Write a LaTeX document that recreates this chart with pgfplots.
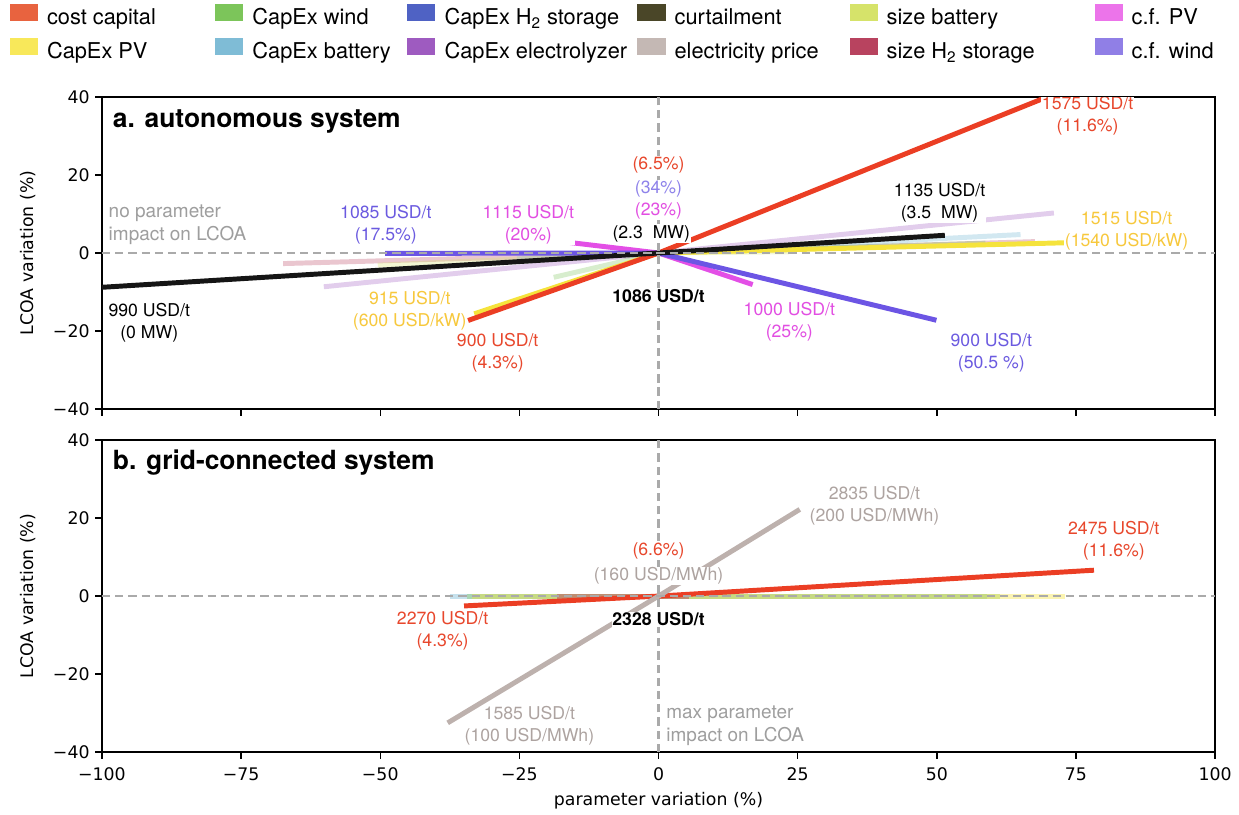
\documentclass[border=0pt]{standalone}
\usepackage{pgfplots}
\pgfplotsset{compat=1.18}
\usepackage{fontspec}
\setmainfont{TeX Gyre Heros}
\newfontfamily\dejavu{DejaVu Sans}

\definecolor{ccapL}{HTML}{EB3E24}
\definecolor{ccapS}{HTML}{E8633F}
\definecolor{pvL}{HTML}{F5E33C}
\definecolor{pvS}{HTML}{F8E85A}
\definecolor{windS}{HTML}{7CC55A}
\definecolor{battS}{HTML}{7FBCD6}
\definecolor{h2sS}{HTML}{4F62C4}
\definecolor{elecS}{HTML}{9E5BC0}
\definecolor{curtS}{HTML}{4A4628}
\definecolor{curtL}{HTML}{151515}
\definecolor{priceS}{HTML}{C4B8B4}
\definecolor{priceL}{HTML}{BDB1AD}
\definecolor{sbattS}{HTML}{D6E36A}
\definecolor{sh2S}{HTML}{B8435F}
\definecolor{cfpvS}{HTML}{EC74EA}
\definecolor{cfpvL}{HTML}{E34FE6}
\definecolor{cfwS}{HTML}{907FE6}
\definecolor{cfwL}{HTML}{6C55E4}
\definecolor{labred}{HTML}{E8472C}
\definecolor{labyel}{HTML}{F7C83C}
\definecolor{labviol}{HTML}{6B5AE0}
\definecolor{lablav}{HTML}{8E82EA}
\definecolor{labmag}{HTML}{E24EE2}
\definecolor{labgray}{HTML}{9E9E9E}
\definecolor{labprice}{HTML}{ADA3A0}
\definecolor{refgray}{HTML}{AAAAAA}

\tikzset{
  ref/.style={refgray, line width=1.5pt, dash pattern=on 5pt off 3pt, line cap=butt},
  lab/.style={align=center, fill=white, inner sep=0.5pt, font=\fontsize{10.7}{13.3}\selectfont},
  faint/.style={opacity=0.3},
}
\pgfplotsset{
  panel/.style={
    scale only axis, width=674.5pt, height=189pt,
    xmin=-100, xmax=100, ymin=-40, ymax=40,
    xtick={-100,-75,-50,-25,0,25,50,75,100},
    ytick={-40,-20,0,20,40},
    yticklabels={−40,−20,0,20,40},
    tick pos=left, tick align=outside, major tick length=4pt,
    axis line style={line width=0.9pt},
    every tick/.style={line width=0.9pt, black},
    ticklabel style={font=\dejavu\fontsize{10.5}{12}\selectfont},
    xlabel style={font=\dejavu\fontsize{10.5}{12}\selectfont},
    ylabel={LCOA variation (\%)},
    every axis y label/.style={at={(axis description cs:-0.066,0.5)}, rotate=90, anchor=center,
      font=\dejavu\fontsize{10.5}{12}\selectfont},
    every axis plot/.append style={line width=3pt, line cap=rect},
  },
}

\begin{document}
\begin{tikzpicture}
%================ TOP PANEL =================
\begin{axis}[panel, at={(0,0)}, anchor=south west,
  xticklabels={},
  legend columns=6,
  legend cell align=left,
  legend style={at={(rel axis cs:0,1)}, anchor=north west, xshift=-56pt, yshift=56.5pt,
    draw=none, fill=none, inner sep=0pt, column sep=0pt, row sep=6.5pt,
    font=\fontsize{13.2}{15}\selectfont, nodes={inner sep=0pt}},
  legend image code/.code={\fill[#1,draw=none] (0pt,-2pt) rectangle (17pt,8.3pt);},
]
\addlegendimage{fill=ccapS}\addlegendentry{\hspace{5.5pt}\makebox[102pt][l]{cost capital}}
\addlegendimage{fill=windS}\addlegendentry{\hspace{5.5pt}\makebox[93.9pt][l]{CapEx wind}}
\addlegendimage{fill=h2sS}\addlegendentry{\hspace{5.5pt}\makebox[116.9pt][l]{CapEx H\textsubscript{2} storage}}
\addlegendimage{fill=curtS}\addlegendentry{\hspace{5.5pt}\makebox[106pt][l]{curtailment}}
\addlegendimage{fill=sbattS}\addlegendentry{\hspace{5.5pt}\makebox[126pt][l]{size battery}}
\addlegendimage{fill=cfpvS}\addlegendentry{\hspace{5.5pt}c.f. PV}
\addlegendimage{fill=pvS}\addlegendentry{\hspace{5.5pt}CapEx PV}
\addlegendimage{fill=battS}\addlegendentry{\hspace{5.5pt}CapEx battery}
\addlegendimage{fill=elecS}\addlegendentry{\hspace{5.5pt}\makebox[116.9pt][l]{CapEx electrolyzer}}
\addlegendimage{fill=priceS}\addlegendentry{\hspace{5.5pt}electricity price}
\addlegendimage{fill=sh2S}\addlegendentry{\hspace{5.5pt}size H\textsubscript{2} storage}
\addlegendimage{fill=cfwS}\addlegendentry{\hspace{5.5pt}c.f. wind}

% faint lines
\addplot[forget plot, elecS, faint] coordinates {(-59.7,-8.6) (0,0) (70.6,10.2)};
\addplot[forget plot, sh2S, faint] coordinates {(-67,-2.7) (0,0) (67.2,2.9)};
\addplot[forget plot, battS, opacity=0.35] coordinates {(-25,-1.5) (0,0) (64.6,4.7)};
\addplot[forget plot, sbattS, faint] coordinates {(-50,-3.1) (0,0) (23,0.3)};
\addplot[forget plot, windS, faint] coordinates {(-18.4,-6.1) (0,0) (58.3,2.5)};
% main lines
\addplot[forget plot, pvL] coordinates {(-32.7,-15.4) (0,0) (72.5,2.6)};
\addplot[forget plot, ccapL] coordinates {(-33.8,-17.1) (0,0) (78.5,45.0)};
\addplot[forget plot, cfpvL] coordinates {(-16,2.7) (0,0) (16.5,-7.9)};
\addplot[forget plot, cfwL] coordinates {(-48.7,-0.1) (0,0) (49.5,-17.1)};
\addplot[forget plot, curtL] coordinates {(-100,-8.8) (0,0) (51,4.5)};
% reference lines
\addplot[forget plot, ref] coordinates {(-100,0) (100,0)};
\addplot[forget plot, ref] coordinates {(0,-40) (0,40)};

\node[anchor=west, inner sep=0pt, font=\bfseries\fontsize{16}{18}\selectfont] at (axis cs:-98.1,33.8) {a. autonomous system};
\node[lab, text=labgray, align=left, anchor=west, font=\fontsize{11.5}{13.8}\selectfont] at (axis cs:-99,7.2) {no parameter\\impact on LCOA};
\node[lab, text=labviol] at (axis cs:-49,7.2) {1085 USD/t\\(17.5\%)};
\node[lab, text=labmag] at (axis cs:-23.4,7.2) {1115 USD/t\\(20\%)};
\node[lab, text=labred] at (axis cs:0,22.6) {(6.5\%)};
\node[lab, text=lablav] at (axis cs:0,16.4) {(34\%)};
\node[lab, text=labmag] at (axis cs:0,10.8) {(23\%)};
\node[lab, text=black] at (axis cs:-1.3,4.9) {(2.3\ \ MW)};
\node[lab, text=black, font=\bfseries\fontsize{10.7}{13.3}\selectfont] at (axis cs:0,-11) {1086 USD/t};
\node[lab, text=black] at (axis cs:-91.5,-18) {990 USD/t\\(0 MW)};
\node[lab, text=labyel] at (axis cs:-44.7,-14.9) {915 USD/t\\(600 USD/kW)};
\node[lab, text=labred] at (axis cs:-28.9,-25.6) {900 USD/t\\(4.3\%)};
\node[lab, text=labmag] at (axis cs:23.5,-17.7) {1000 USD/t\\(25\%)};
\node[lab, text=labviol] at (axis cs:59.8,-25.6) {900 USD/t\\(50.5 \%)};
\node[lab, text=labred] at (axis cs:77.1,35.1) {1575 USD/t\\(11.6\%)};
\node[lab, text=black] at (axis cs:50.5,12.8) {1135 USD/t\\(3.5\ \ MW)};
\node[lab, text=labyel] at (axis cs:84.1,5.6) {1515 USD/t\\(1540 USD/kW)};
\end{axis}

%================ BOTTOM PANEL =================
\begin{axis}[panel, at={(0,-207.9pt)}, anchor=south west,
  xticklabels={−100,−75,−50,−25,0,25,50,75,100},
  xticklabel style={yshift=-2pt},
  xlabel={parameter variation (\%)},
]
\addplot[battS, opacity=0.45] coordinates {(-37,0) (0,0) (58.6,0)};
\addplot[windS, opacity=0.4] coordinates {(-34,0) (0,0) (61,0)};
\addplot[pvL, opacity=0.4] coordinates {(-33,0) (0,0) (72.6,0)};
\addplot[sh2S, opacity=0.5] coordinates {(-17.8,0) (0,0) (5,0)};
\addplot[ccapL] coordinates {(-34.5,-2.5) (0,0) (77.8,6.6)};
\addplot[priceL] coordinates {(-37.5,-32.2) (0,0) (25,21.9)};
\addplot[ref] coordinates {(-100,0) (100,0)};
\addplot[ref] coordinates {(0,-40) (0,40)};

\node[anchor=west, inner sep=0pt, font=\bfseries\fontsize{16}{18}\selectfont] at (axis cs:-98.1,34.2) {b. grid-connected system};
\node[lab, text=labred] at (axis cs:0,11.6) {(6.6\%)};
\node[lab, text=labprice] at (axis cs:0,5.1) {(160 USD/MWh)};
\node[lab, text=black, font=\bfseries\fontsize{10.7}{13.3}\selectfont] at (axis cs:0,-5.9) {2328 USD/t};
\node[lab, text=labred] at (axis cs:-38.8,-9) {2270 USD/t\\(4.3\%)};
\node[lab, text=labprice] at (axis cs:38.8,23.1) {2835 USD/t\\(200 USD/MWh)};
\node[lab, text=labred] at (axis cs:81.8,14.1) {2475 USD/t\\(11.6\%)};
\node[lab, text=labprice, fill=none] at (axis cs:-23.2,-33.2) {1585 USD/t\\(100 USD/MWh)};
\node[text=labgray, align=left, anchor=west, inner sep=0.5pt, font=\fontsize{11.5}{13.8}\selectfont] at (axis cs:1.2,-33.2) {max parameter\\impact on LCOA};
\end{axis}

\pgfresetboundingbox
\path (-61.8pt,-245.5pt) rectangle (689pt,247.8pt);
\end{tikzpicture}
\end{document}
